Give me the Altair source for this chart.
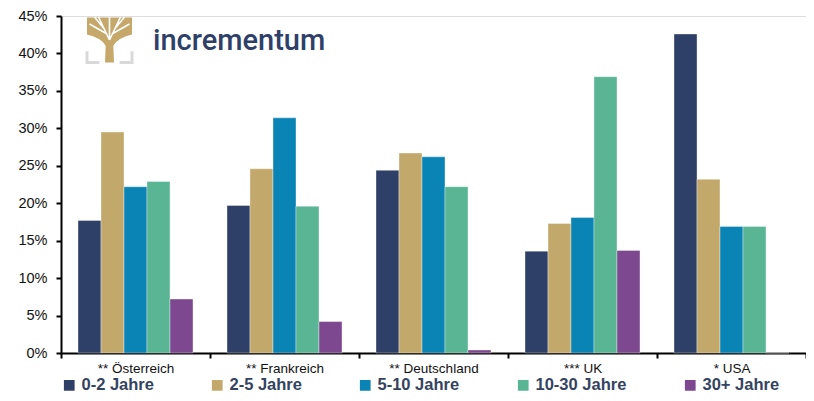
import altair as alt
import pandas as pd

countries = ["** Österreich", "** Frankreich", "** Deutschland", "*** UK", "* USA"]
buckets = ["0-2 Jahre", "2-5 Jahre", "5-10 Jahre", "10-30 Jahre", "30+ Jahre"]
colors = ["#2E4068", "#C3A86B", "#0A84B4", "#5AB594", "#7D4890"]

# share of debt per maturity bucket (fractions)
oesterreich = [0.177, 0.295, 0.222, 0.229, 0.072]
frankreich = [0.197, 0.246, 0.314, 0.196, 0.042]
deutschland = [0.244, 0.267, 0.262, 0.222, 0.004]
uk = [0.136, 0.173, 0.181, 0.369, 0.137]
usa = [0.426, 0.232, 0.169, 0.169, 0.0]

series = [oesterreich, frankreich, deutschland, uk, usa]
rows = []
for c, vals in zip(countries, series):
    for b, v in zip(buckets, vals):
        rows.append({"Land": c, "Laufzeit": b, "Anteil": v})
df = pd.DataFrame(rows)

W, H = 745, 337

bars = alt.Chart(df).mark_bar(stroke="white", strokeWidth=0.6, strokeOpacity=0.6).encode(
    x=alt.X("Land:N", sort=countries, title=None,
            scale=alt.Scale(paddingInner=0, paddingOuter=0),
            axis=alt.Axis(labelAngle=0, tickBand="extent", labelFontSize=13.5,
                          labelFont="Liberation Sans", labelColor="#111",
                          domainColor="black", domainWidth=2, tickColor="black",
                          tickWidth=2, tickSize=5, labelPadding=3)),
    xOffset=alt.XOffset("Laufzeit:N", sort=buckets,
                        scale=alt.Scale(paddingOuter=0.74, paddingInner=0)),
    y=alt.Y("Anteil:Q", title=None,
            scale=alt.Scale(domain=[0, 0.45], nice=False),
            axis=alt.Axis(format=".0%", values=[i * 0.05 for i in range(10)],
                          grid=False, labelFontSize=14.5, labelFont="Liberation Sans",
                          labelColor="#111", domainColor="black", domainWidth=2,
                          tickColor="black", tickWidth=2, tickSize=5, labelPadding=9)),
    color=alt.Color("Laufzeit:N", sort=buckets,
                    scale=alt.Scale(domain=buckets, range=colors),
                    legend=alt.Legend(title=None, orient="none", direction="horizontal",
                                      legendX=0, legendY=361, symbolType="square",
                                      symbolSize=115, symbolStrokeWidth=0,
                                      labelFont="Liberation Sans", labelFontWeight="bold",
                                      labelFontSize=16.5, labelColor="#34435F",
                                      labelOffset=4, columnPadding=55, padding=0)),
)

logo_df = pd.DataFrame({"t": ["incrementum"]})

tree_path = ("M -1 -1 L 1 -1 L 1 -0.25 Q 0.35 -0.1 0.17 0.25 L 0.2 1 L -0.2 1 "
             "L -0.17 0.25 Q -0.35 -0.1 -1 -0.25 Z")
gap_path = ("M 0 0.15 L -0.55 -1 M 0 0.15 L 0.55 -1 M 0 0.1 L 0 -1 "
            "M -0.12 -0.15 L -1 -0.65 M 0.12 -0.15 L 1 -0.65 "
            "M -0.3 -0.45 L -0.75 -1 M 0.3 -0.45 L 0.75 -1")
bracket_path = "M -1 0.5 L -1 1 L -0.45 1 M 1 0.5 L 1 1 L 0.45 1"

tree = alt.Chart(logo_df).mark_point(shape=tree_path, filled=True, fill="#C5A86A",
                                     size=2025, strokeWidth=0, opacity=1).encode(
    x=alt.value(48.5), y=alt.value(24))
gaps = alt.Chart(logo_df).mark_point(shape=gap_path, filled=False, stroke="white",
                                     size=1600, strokeWidth=1.6, opacity=1).encode(
    x=alt.value(48.5), y=alt.value(21))
bracket = alt.Chart(logo_df).mark_point(shape=bracket_path, filled=False, stroke="#D9D9D9",
                                        size=2025, strokeWidth=3, opacity=1).encode(
    x=alt.value(48.5), y=alt.value(24))
logo_text = alt.Chart(logo_df).mark_text(align="left", baseline="alphabetic",
                                         font="Roboto", fontWeight=500, fontSize=29,
                                         color="#2E4068").encode(
    x=alt.value(92), y=alt.value(34), text="t:N")

chart = alt.layer(bars, tree, gaps, bracket, logo_text).properties(
    width=W, height=H,
    autosize=alt.AutoSizeParams(type="none"),
    padding={"left": 53, "top": 8, "right": 0, "bottom": 40},
).configure_view(stroke=None).configure(background="white")

chart.save("out.html", embed_options={"renderer": "svg", "actions": False})
